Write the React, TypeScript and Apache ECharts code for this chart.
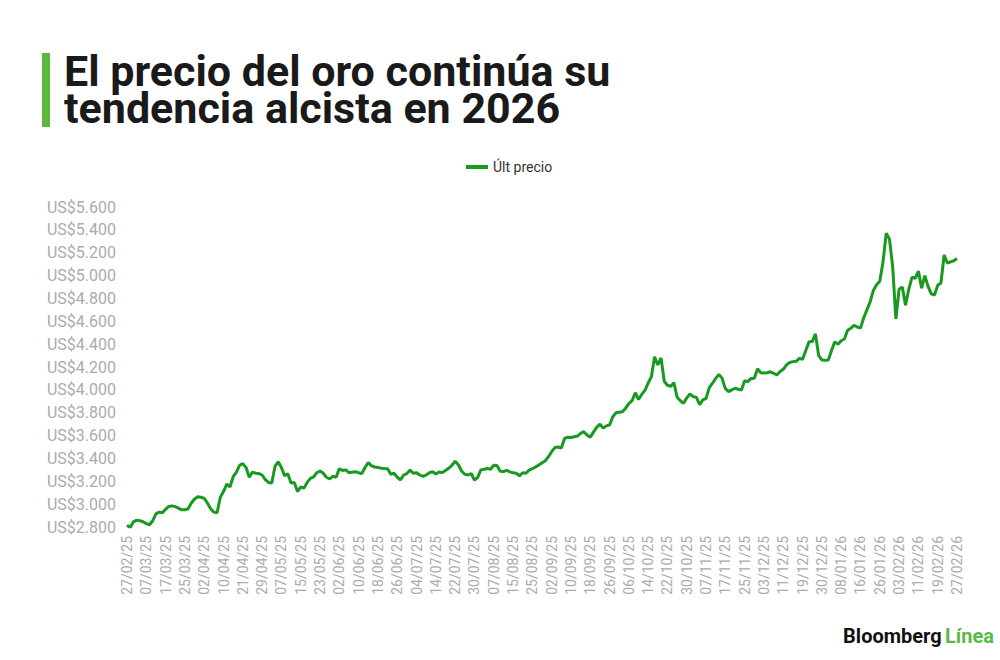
import React, { useEffect, useRef } from "react";
import * as echarts from "echarts";

// Trading days: weekdays from 27/02/25 to 27/02/26, minus these market holidays
const startDate = "2025-02-27";
const endDate = "2026-02-27";
const holidays = ["2025-04-18", "2025-12-25", "2026-01-01"];

// Gold price (US$), one value per trading day
const pricesFebMay = [
  2815, 2795, 2845, 2860, 2855, 2846, 2830, 2820, 2855, 2915,
  2930, 2925, 2955, 2980, 2985, 2978, 2965, 2950, 2950, 2960,
  3010, 3045, 3065, 3060, 3050, 3010, 2960, 2930, 2925, 3060,
  3110, 3175, 3150, 3240, 3280, 3340, 3355, 3320, 3235, 3280,
  3270, 3268, 3255, 3215, 3190, 3185, 3330, 3370, 3320, 3250,
  3265, 3185, 3190, 3110, 3150, 3140, 3190, 3225, 3238, 3275,
];
const pricesJunAug = [
  3290, 3270, 3235, 3220, 3245, 3235, 3310, 3295, 3300, 3275,
  3280, 3284, 3275, 3268, 3320, 3365, 3335, 3325, 3320, 3315,
  3312, 3310, 3262, 3270, 3235, 3212, 3255, 3268, 3298, 3270,
  3275, 3255, 3242, 3255, 3275, 3284, 3264, 3282, 3276, 3295,
  3314, 3340, 3375, 3345, 3290, 3262, 3255, 3268, 3210, 3235,
  3300, 3305, 3312, 3305, 3340, 3338, 3288, 3285, 3295, 3282,
  3275, 3270, 3248, 3275, 3270, 3298, 3310, 3325, 3342, 3362,
];
const pricesSepNov = [
  3378, 3415, 3459, 3495, 3500, 3490, 3575, 3585, 3583, 3590,
  3596, 3620, 3634, 3605, 3585, 3630, 3672, 3700, 3665, 3685,
  3692, 3765, 3800, 3805, 3809, 3840, 3880, 3905, 3975, 3915,
  3960, 3995, 4060, 4115, 4290, 4218, 4280, 4075, 4040, 4030,
  4063, 3935, 3905, 3882, 3930, 3965, 3940, 3935, 3870, 3912,
  3925, 4020, 4058, 4100, 4135, 4100, 4010, 3985, 4000, 4014,
  4005, 3998, 4080, 4072, 4100, 4102, 4185,
];
const pricesDecFeb = [
  4150, 4148, 4150, 4158, 4145, 4130, 4160, 4180, 4218, 4240,
  4247, 4250, 4275, 4268, 4345, 4420, 4422, 4490, 4300, 4262,
  4258, 4262, 4345, 4420, 4400, 4430, 4445, 4522, 4540, 4565,
  4550, 4540, 4630, 4700, 4770, 4870, 4920, 4950, 5120, 5370,
  5320, 5080, 4620, 4880, 4900, 4740, 4880, 4985, 4975, 5040,
  4890, 5000, 4905, 4840, 4830, 4915, 4935, 5180, 5110, 5120,
  5130, 5150,
];
const prices = [...pricesFebMay, ...pricesJunAug, ...pricesSepNov, ...pricesDecFeb];

const yMin = 2800;
const yMax = 5600;
const yStep = 200;
const seriesName = "Últ precio";
const titleLines = ["El precio del oro continúa su", "tendencia alcista en 2026"];

function buildDates(): string[] {
  const out: string[] = [];
  const d = new Date(startDate + "T00:00:00Z");
  const end = new Date(endDate + "T00:00:00Z");
  while (d <= end) {
    const iso = d.toISOString().slice(0, 10);
    const wd = d.getUTCDay();
    if (wd !== 0 && wd !== 6 && !holidays.includes(iso)) {
      const dd = String(d.getUTCDate()).padStart(2, "0");
      const mm = String(d.getUTCMonth() + 1).padStart(2, "0");
      const yy = String(d.getUTCFullYear()).slice(2);
      out.push(`${dd}/${mm}/${yy}`);
    }
    d.setUTCDate(d.getUTCDate() + 1);
  }
  return out;
}

const fmtUSD = (v: number) => {
  const s = String(Math.round(v));
  return "US$" + s.replace(/\B(?=(\d{3})+(?!\d))/g, ".");
};

export default function App() {
  const ref = useRef<HTMLDivElement>(null);
  useEffect(() => {
    document.body.style.margin = "0";
    if (!ref.current) return;
    const chart = echarts.init(ref.current, undefined, { renderer: "svg" });
    const dates = buildDates();
    const green = "#179a1f";
    chart.setOption({
      animation: false,
      backgroundColor: "#ffffff",
      textStyle: { fontFamily: "Roboto" },
      grid: { left: 127, right: 43, top: 207, bottom: 133, containLabel: false },
      legend: {
        data: [seriesName],
        left: 461,
        top: 155,
        icon: "rect",
        itemWidth: 22,
        itemHeight: 4,
        itemGap: 6,
        textStyle: { color: "#333333", fontSize: 14, fontFamily: "Roboto" },
      },
      xAxis: {
        type: "category",
        data: dates,
        boundaryGap: false,
        axisLine: { show: false },
        axisTick: { show: false },
        splitLine: { show: false },
        axisLabel: {
          interval: 5,
          rotate: 90,
          margin: 9,
          color: "#ababab",
          fontSize: 14,
          fontFamily: "Roboto",
        },
      },
      yAxis: {
        type: "value",
        min: yMin,
        max: yMax,
        interval: yStep,
        axisLine: { show: false },
        axisTick: { show: false },
        splitLine: { show: false },
        axisLabel: {
          formatter: fmtUSD,
          margin: 11,
          color: "#ababab",
          fontSize: 16,
          fontFamily: "Roboto",
        },
      },
      series: [
        {
          name: seriesName,
          type: "line",
          data: prices,
          showSymbol: false,
          symbol: "none",
          lineStyle: { color: green, width: 3 },
          itemStyle: { color: green },
        },
      ],
      graphic: [
        {
          type: "rect",
          shape: { x: 42, y: 53, width: 8, height: 74 },
          style: { fill: "#5cb83c" },
        },
        {
          type: "text",
          left: 64,
          top: 49,
          style: {
            text: titleLines.join("\n"),
            fontFamily: "Roboto",
            fontWeight: "bold",
            fontSize: 43,
            lineHeight: 37,
            fill: "#1a1a1a",
          },
        },
        {
          type: "text",
          right: 6,
          top: 626,
          style: {
            rich: {
              b: { fontFamily: "Roboto", fontWeight: "bold", fontSize: 20, fill: "#111111" },
              l: { fontFamily: "Roboto", fontWeight: "bold", fontSize: 20, fill: "#5ab947" },
            },
            text: "{b|Bloomberg} {l|Línea}",
          },
        },
      ],
    });
    return () => chart.dispose();
  }, []);
  return <div ref={ref} style={{ width: 1000, height: 660 }} />;
}
